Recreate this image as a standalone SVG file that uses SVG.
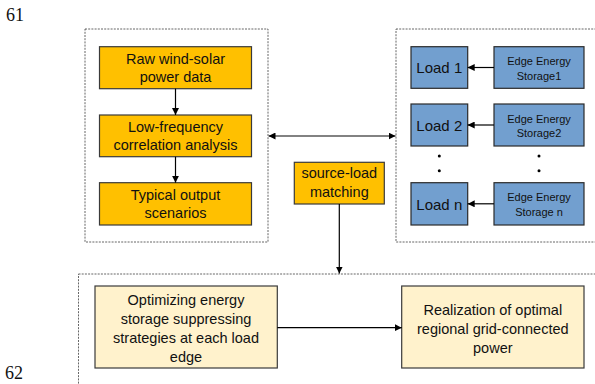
<svg xmlns="http://www.w3.org/2000/svg" width="595" height="384" viewBox="0 0 595 384">
<defs>
<marker id="ah" viewBox="0 0 10 10" refX="10" refY="5" markerWidth="7" markerHeight="7" markerUnits="userSpaceOnUse" orient="auto-start-reverse"><path d="M0,0 L10,5 L0,10 z" fill="#000"/></marker>
<style>
.dash{fill:none;stroke:#404040;stroke-width:0.8;stroke-dasharray:2,1.2}
.or{fill:#FFC000;stroke:#3a3a3a;stroke-width:1.2}
.bl{fill:#729FCF;stroke:#2a2a2a;stroke-width:1.2}
.lt{fill:#FFF2CC;stroke:#3a3a3a;stroke-width:1.2}
.t{font-family:"Liberation Sans",Arial,sans-serif;font-size:14.5px;fill:#111;text-anchor:middle}
.ts{font-family:"Liberation Sans",Arial,sans-serif;font-size:11px;fill:#111;text-anchor:middle}
.tl{font-family:"Liberation Sans",Arial,sans-serif;font-size:15px;fill:#111;text-anchor:middle}
.num{font-family:"Liberation Serif","Times New Roman",serif;font-size:18px;fill:#111}
.ln{fill:none;stroke:#000;stroke-width:1.2}
.lg{fill:none;stroke:#595959;stroke-width:1.6}
</style>
</defs>
<rect width="595" height="384" fill="#fff"/>
<text class="num" x="6" y="20.7">61</text>
<text class="num" x="5" y="379">62</text>
<g id="left-panel"><rect class="dash" x="85" y="29" width="183" height="213"/></g>
<g id="right-panel"><rect class="dash" x="396" y="29" width="205" height="213"/></g>
<g id="bottom-panel"><rect class="dash" x="78.5" y="274" width="530" height="120"/></g>
<g id="raw"><rect class="or" x="99.5" y="46.7" width="152" height="42"/><text class="t" x="175.5" y="63.5">Raw wind-solar</text><text class="t" x="175.5" y="82">power data</text></g>
<g id="lowfreq"><rect class="or" x="99.5" y="115" width="152" height="41.7"/><text class="t" x="175.5" y="131.5">Low-frequency</text><text class="t" x="175.5" y="150">correlation analysis</text></g>
<g id="typical"><rect class="or" x="99.5" y="182.7" width="152" height="42.3"/><text class="t" x="175.5" y="199.5">Typical output</text><text class="t" x="175.5" y="218">scenarios</text></g>
<g id="load1"><rect class="bl" x="411" y="46.7" width="56.7" height="41.6"/><text class="tl" x="439.3" y="73">Load 1</text></g>
<g id="load2"><rect class="bl" x="411" y="104" width="56.7" height="42"/><text class="tl" x="439.3" y="130.5">Load 2</text></g>
<g id="loadn"><rect class="bl" x="411" y="182.7" width="56.7" height="42.3"/><text class="tl" x="439.3" y="209.5">Load n</text></g>
<g id="storage1"><rect class="bl" x="494" y="46.7" width="90" height="41.6"/><text class="ts" x="539" y="65">Edge Energy</text><text class="ts" x="539" y="79.5">Storage1</text></g>
<g id="storage2"><rect class="bl" x="494" y="104" width="90" height="42"/><text class="ts" x="539" y="122.5">Edge Energy</text><text class="ts" x="539" y="137">Storage2</text></g>
<g id="storagen"><rect class="bl" x="494" y="182.7" width="90" height="42.3"/><text class="ts" x="539" y="201">Edge Energy</text><text class="ts" x="539" y="215.5">Storage n</text></g>
<g id="dots" fill="#000"><circle cx="439.3" cy="156" r="1.5"/><circle cx="439.3" cy="170.7" r="1.5"/><circle cx="539" cy="156" r="1.5"/><circle cx="539" cy="170.7" r="1.5"/></g>
<g id="matching"><rect class="or" x="294.3" y="162.3" width="90" height="41.7"/><text class="t" x="339.3" y="178">source-load</text><text class="t" x="339.3" y="197">matching</text></g>
<g id="optimizing"><rect class="lt" x="95" y="286" width="182.3" height="82"/><text class="t" x="186" y="305">Optimizing energy</text><text class="t" x="186" y="324">storage suppressing</text><text class="t" x="186" y="343">strategies at each load</text><text class="t" x="186" y="362">edge</text></g>
<g id="realization"><rect class="lt" x="401.7" y="286" width="182.3" height="82"/><text class="t" x="492.8" y="314.5">Realization of optimal</text><text class="t" x="492.8" y="333.5">regional grid-connected</text><text class="t" x="492.8" y="352.5">power</text></g>
<g id="connectors">
<line class="ln" x1="175.5" y1="88.7" x2="175.5" y2="115" marker-end="url(#ah)"/>
<line class="ln" x1="175.5" y1="156.7" x2="175.5" y2="182.7" marker-end="url(#ah)"/>
<line class="lg" x1="268.5" y1="136" x2="395.5" y2="136" marker-start="url(#ah)" marker-end="url(#ah)"/>
<line class="ln" x1="494" y1="67.5" x2="467.7" y2="67.5" marker-end="url(#ah)"/>
<line class="ln" x1="494" y1="125" x2="467.7" y2="125" marker-end="url(#ah)"/>
<line class="ln" x1="494" y1="203.8" x2="467.7" y2="203.8" marker-end="url(#ah)"/>
<line class="ln" x1="339.3" y1="204" x2="339.3" y2="273.5" marker-end="url(#ah)"/>
<line class="ln" x1="277.3" y1="327.7" x2="401.7" y2="327.7" marker-end="url(#ah)"/>
</g>
</svg>
